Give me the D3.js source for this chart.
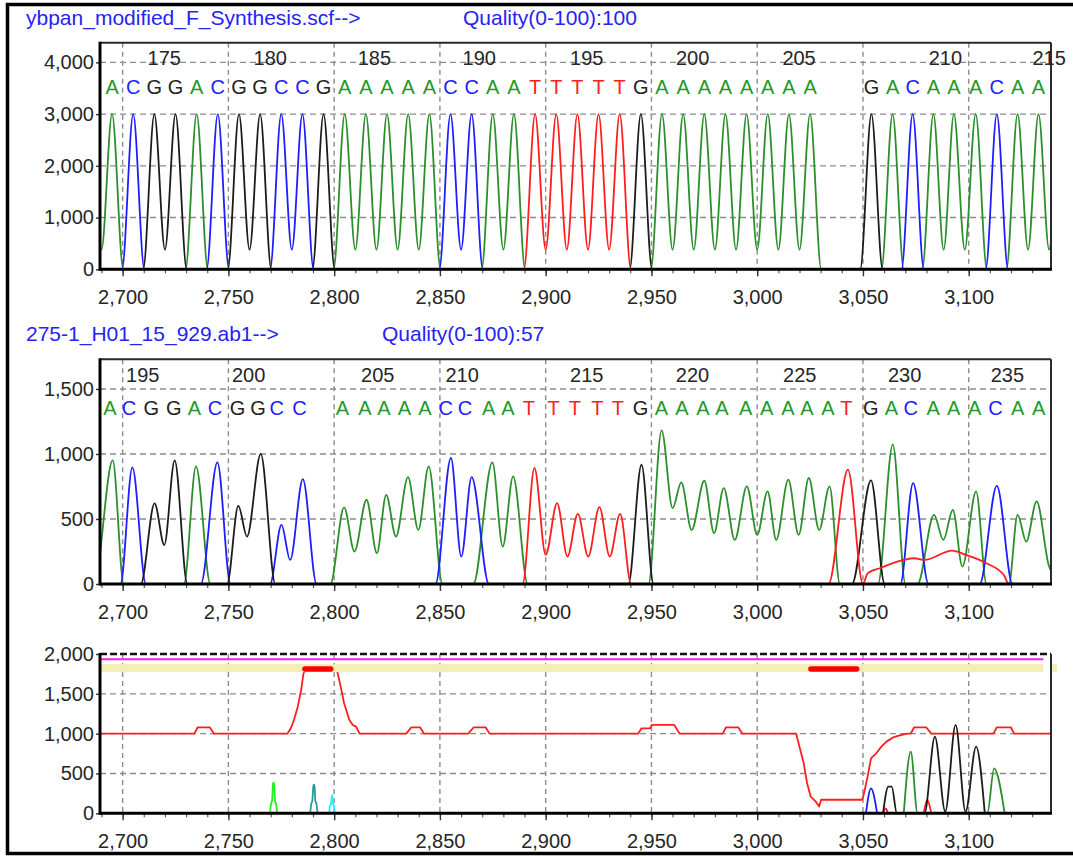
<!DOCTYPE html>
<html>
<head>
<meta charset="utf-8">
<script src="https://cdn.jsdelivr.net/npm/d3@7"></script>
<style>
  html, body { margin: 0; padding: 0; background: #fff; }
  svg { display: block; font-family: "Liberation Sans", Arial, sans-serif; }
</style>
</head>
<body>
<svg id="chart" width="1073" height="856"></svg>
<script>
// ---------- shared scan axis ----------
const xDomain = [2689.3, 3138.9];
const xMajorTicks = [2700, 2750, 2800, 2850, 2900, 2950, 3000, 3050, 3100];
const xMinorTicks = [2690, 2700, 2710, 2720, 2730, 2740, 2750, 2760, 2770, 2780, 2790, 2800, 2810, 2820, 2830, 2840, 2850, 2860, 2870, 2880, 2890, 2900, 2910, 2920, 2930, 2940, 2950, 2960, 2970, 2980, 2990, 3000, 3010, 3020, 3030, 3040, 3050, 3060, 3070, 3080, 3090, 3100, 3110, 3120, 3130];

// ---------- panel 1: synthetic reference trace ----------
const topTitle = "ybpan_modified_F_Synthesis.scf-->";
const topQuality = "Quality(0-100):100";
const topYTicks = [0, 1000, 2000, 3000, 4000];
const topYMax = 4380;
// base calls and their peak positions (first and last sit just outside the view)
const topCalls = "AACGGACGGCCGAAAAACCAATTTTTGAAAAAAAAGACAAACAAA";
const topPeakX = [2685, 2695, 2705, 2715, 2725, 2735, 2745, 2755, 2765, 2775, 2785, 2795, 2805, 2815, 2825,
  2835, 2845, 2855, 2865, 2875, 2885, 2895, 2905, 2915, 2925, 2935, 2945, 2955, 2965, 2975, 2985, 2995,
  3005, 3015, 3025, 3054, 3064, 3073.5, 3083.3, 3093, 3103.3, 3113.3, 3123.1, 3133, 3143];
const topPeakHeight = 3000;
const topValley = 380;       // level between two neighbouring peaks of the same base
const topHalfWidth = 5.3;    // scan distance from a peak to the baseline
const topNumLabels = [175, 180, 185, 190, 195, 200, 205, 210, 215];
const topNumX = [2719.7, 2769.8, 2819, 2868.6, 2919.4, 2969.5, 3019.8, 3089, 3138];

// ---------- panel 2: sample trace ----------
const midTitle = "275-1_H01_15_929.ab1-->";
const midQuality = "Quality(0-100):57";
const midYTicks = [0, 500, 1000, 1500];
const midYMax = 1728;
const midCalls = "ACGGACGGCCAAAAACCAATTTTTGAAAAAAAAATGACAAACAA";
const midBaseX = [2694.0, 2703.0, 2713.6, 2724.2, 2733.9, 2743.6, 2754.3, 2764.0, 2772.9, 2783.6,
  2803.9, 2814.5, 2823.5, 2833.2, 2842.9, 2852.8, 2861.8, 2873.1, 2882.1,
  2892.0, 2903.8, 2913.8, 2924.4, 2934.1, 2944.9,
  2954.7, 2964.4, 2974.3, 2983.3, 2994.6, 3004.5, 3014.5, 3023.5, 3033.4, 3042.2,
  3053.7, 3063.5, 3072.6, 3083.2, 3092.9, 3102.8, 3112.6, 3123.2, 3133.1];
const midNumLabels = [195, 200, 205, 210, 215, 220, 225, 230, 235];
const midNumX = [2709.5, 2759.6, 2820.6, 2860.5, 2919.4, 2969.4, 3020.1, 3069.7, 3118.3];
// trace vertices per channel: [scan, signal]
const midTraceA = [[2680, 0], [2686.5, 0], [2695.3, 950], [2700.5, 0],
  [2729, 0], [2734.7, 905], [2741.5, 0],
  [2798.2, 0], [2804.7, 590], [2809.6, 250], [2815.3, 648], [2820.2, 237], [2824.6, 686], [2829.2, 365],
  [2834.9, 822], [2839.8, 416], [2844.7, 905], [2851.2, 0],
  [2865.8, 0], [2874.8, 935], [2879.7, 288], [2884.6, 828], [2891.5, 0],
  [2948.6, 0], [2954.8, 1182], [2960, 583], [2964.1, 781], [2969, 416], [2975, 794], [2979.6, 391],
  [2984.2, 738], [2989.4, 339], [2995.1, 750], [3000, 378], [3004.9, 712], [3009, 339], [3014.7, 802],
  [3019.6, 378], [3024.4, 815], [3029.3, 416], [3034.2, 750], [3039.1, 0],
  [3057.1, 0], [3064.1, 1072], [3070.1, 0],
  [3075.8, 0], [3083.6, 532], [3088, 339], [3092.5, 570], [3097, 134], [3103.5, 712], [3108.4, 0],
  [3119, 0], [3123.1, 532], [3127.2, 326], [3132.1, 635], [3137.8, 146], [3141, 40]];
const midTraceC = [[2680, 0], [2699, 0], [2704.6, 897], [2711, 0],
  [2737, 0], [2744.8, 935], [2751, 0],
  [2769.7, 0], [2775.1, 455], [2779.2, 185], [2785.2, 807], [2791.7, 0],
  [2847.9, 0], [2855.2, 969], [2860.1, 211], [2865, 822], [2873.2, 0],
  [3067.7, 0], [3073.7, 776], [3081, 0],
  [3105.2, 0], [3113.3, 755], [3120.7, 0], [3145, 0]];
const midTraceG = [[2680, 0], [2708.6, 0], [2715.1, 620], [2719.7, 300], [2724.6, 951], [2730.6, 0],
  [2749.4, 0], [2754.7, 601], [2758.8, 365], [2765.3, 1000], [2772.2, 0],
  [2939.1, 0], [2945.3, 917], [2951, 0],
  [3044.8, 0], [3053.8, 797], [3060.3, 0], [3145, 0]];
const midTraceT = [[2680, 0], [2889.1, 0], [2894.7, 892], [2900, 224], [2905.4, 622], [2910.3, 211],
  [2915.2, 540], [2920.1, 211], [2925.4, 591], [2930.3, 211], [2935.2, 540], [2940.4, 0],
  [3033.7, 0], [3042.9, 879], [3050, 0], [3052.2, 82], [3057.9, 121], [3069.3, 185], [3074.2, 198],
  [3079.1, 185], [3092.1, 257], [3098.7, 224], [3108.4, 159], [3116.6, 69], [3119, 0], [3145, 0]];

// ---------- panel 3: comparison ----------
const botYTicks = [0, 500, 1000, 1500, 2000];
const botYMax = 2000;
const botMagentaLevel = 1935;
const botMagentaSpan = [2689.3, 3135.3];
const botBand = [1772, 1872];
const botBandSpans = [[2689.0, 3135.3], [3139.5, 3141.7]];
const botBarLevel = 1813;
const botBars = [[2786.2, 2798.4], [3025.4, 3047.0]];
const botScoreLine = [[2689.3, 1000], [2733.9, 1000], [2735.5, 1080], [2741.2, 1080], [2743.2, 1000],
  [2777.9, 1000], [2779.5, 1067], [2781, 1171], [2782.8, 1339], [2784.4, 1548], [2785.5, 1757], [2786.8, 1810],
  [2799, 1810], [2801.5, 1778], [2803.1, 1590], [2804.7, 1381], [2807.2, 1171], [2808.8, 1109], [2810.4, 1088], [2812, 1000],
  [2834.1, 1000], [2836.5, 1080], [2840.6, 1080], [2842.5, 1000],
  [2863.4, 1000], [2866, 1080], [2871.6, 1080], [2873.5, 1000],
  [2943.7, 1000], [2945.3, 1067], [2949.4, 1067], [2950.2, 1109], [2960.8, 1109], [2963.3, 1000],
  [2983.7, 1000], [2985.3, 1080], [2991, 1080], [2993, 1000],
  [3018.4, 1000], [3022, 628], [3023.6, 377], [3025.3, 209], [3027.7, 146], [3029.3, 84], [3030.2, 170],
  [3049.7, 170], [3050.5, 251], [3052.2, 460], [3053.8, 690], [3056.3, 753], [3058.7, 837], [3061.1, 900],
  [3064.4, 954], [3066.9, 975], [3070.9, 1000],
  [3072.6, 1000], [3074.2, 1080], [3079.9, 1080], [3082.3, 1000],
  [3111.7, 1000], [3113.3, 1080], [3119.9, 1080], [3121.5, 1000], [3138.9, 1000]];
const botTraceA = [[3069.3, 0], [3072.6, 774], [3075.8, 0], [3108.8, 0], [3112, 565], [3117, 0]];
const botTraceC = [[3051.4, 0], [3053.8, 314], [3056.7, 0]];
const botTraceG = [[3059.5, 0], [3062, 335], [3063.6, 335], [3066, 0], [3079.1, 0], [3084, 962], [3088.9, 20],
  [3093.8, 1109], [3098.5, 20], [3103.5, 837], [3107.6, 0]];
const botTraceT = [[3059.5, 0], [3060.8, 63], [3062, 0], [3078.3, 0], [3080.4, 167], [3082.3, 0]];
const botSpikeLime = [[2769.7, 0], [2770.1, 110], [2770.7, 170], [2771.1, 380], [2771.6, 385], [2772, 170], [2772.6, 110], [2773.1, 0]];
const botSpikeTeal = [[2788.7, 0], [2789.1, 110], [2789.7, 160], [2790.2, 356], [2790.7, 360], [2791.1, 160], [2791.7, 110], [2792.1, 0]];
const botSpikeCyan = [[2797.6, 0], [2798.0, 90], [2798.5, 120], [2799.0, 230], [2799.4, 120], [2799.9, 90], [2800.3, 0]];

// ---------- styles ----------
const traceColor = { A: "#2b8f2b", C: "#1e1eff", G: "#1c1c1c", T: "#ff1e1e" };
const letterColor = { A: "#22992a", C: "#2020ff", G: "#222222", T: "#ff2020" };
const titleColor = "#2323f5";
const gridColor = "#8c8c8c";
const textColor = "#262626";

const svg = d3.select("#chart");
const x = d3.scaleLinear().domain(xDomain).range([100, 1051]);
const fmt = d3.format(",");

// outer frame (its right edge lies past the page)
svg.append("rect").attr("x", 7.5).attr("y", 4.5).attr("width", 1100).attr("height", 849)
  .attr("fill", "none").attr("stroke", "#000").attr("stroke-width", 3.5);

function makePanel(id, top, bottom, yMax, yTicks) {
  const y = d3.scaleLinear().domain([0, yMax]).range([bottom, top]);
  const g = svg.append("g").attr("id", id);
  g.append("clipPath").attr("id", id + "-clip").append("rect")
    .attr("x", x.range()[0]).attr("y", top).attr("width", x.range()[1] - x.range()[0]).attr("height", bottom - top + 1);
  // horizontal grid
  g.append("g").selectAll("line").data(yTicks.filter(v => v > 0 && v < yMax)).join("line")
    .attr("x1", x.range()[0]).attr("x2", x.range()[1]).attr("y1", d => y(d)).attr("y2", d => y(d))
    .attr("stroke", gridColor).attr("stroke-width", 1.4).attr("stroke-dasharray", "6,4");
  // vertical grid
  g.append("g").selectAll("line").data(xMajorTicks).join("line")
    .attr("x1", d => x(d)).attr("x2", d => x(d)).attr("y1", top).attr("y2", bottom)
    .attr("stroke", gridColor).attr("stroke-width", 1.4).attr("stroke-dasharray", "5,4");
  const plot = g.append("g").attr("clip-path", `url(#${id}-clip)`);
  const over = g.append("g");
  return { g, plot, over, y, top, bottom, yTicks, yMax };
}

function finishPanel(p, dashedTop) {
  const g = p.g.append("g");
  // top and right frame
  g.append("line").attr("x1", x.range()[0]).attr("x2", x.range()[1]).attr("y1", p.top).attr("y2", p.top)
    .attr("stroke", dashedTop ? "#111" : "#2a2a2a").attr("stroke-width", dashedTop ? 2.4 : 2)
    .attr("stroke-dasharray", dashedTop ? "7,3" : null);
  g.append("line").attr("x1", x.range()[1]).attr("x2", x.range()[1]).attr("y1", p.top).attr("y2", p.bottom)
    .attr("stroke", "#2a2a2a").attr("stroke-width", 2);
  // x axis
  const minor = g.append("g").attr("transform", `translate(0,${p.bottom})`)
    .call(d3.axisBottom(x).tickValues(xMinorTicks).tickSize(4).tickFormat(""));
  minor.select(".domain").remove();
  minor.selectAll("line").attr("stroke", "#555").attr("stroke-width", 1.2);
  const major = g.append("g").attr("transform", `translate(0,${p.bottom})`)
    .call(d3.axisBottom(x).tickValues(xMajorTicks).tickSize(7).tickPadding(13.5).tickFormat(fmt));
  major.select(".domain").remove();
  major.selectAll("line").attr("stroke", "#333").attr("stroke-width", 1.4);
  major.selectAll("text").attr("font-size", 20).attr("fill", textColor)
    .attr("font-family", '"Liberation Sans", Arial, sans-serif');
  // y axis
  const yAx = g.append("g").attr("transform", `translate(${x.range()[0]},0)`)
    .call(d3.axisLeft(p.y).tickValues(p.yTicks).tickSize(4).tickPadding(2).tickFormat(fmt));
  yAx.select(".domain").remove();
  yAx.selectAll("line").attr("stroke", "#333").attr("stroke-width", 1.4);
  yAx.selectAll("text").attr("font-size", 20).attr("fill", textColor)
    .attr("font-family", '"Liberation Sans", Arial, sans-serif');
  // heavy left and bottom axis lines
  g.append("line").attr("x1", x.range()[0]).attr("x2", x.range()[0]).attr("y1", p.top - 1).attr("y2", p.bottom + 1.5)
    .attr("stroke", "#000").attr("stroke-width", 3);
  g.append("line").attr("x1", x.range()[0]).attr("x2", x.range()[1] + 1).attr("y1", p.bottom).attr("y2", p.bottom)
    .attr("stroke", "#000").attr("stroke-width", 3);
}

const smooth = d3.curveMonotoneX;
function drawTrace(p, pts, color, curve, width) {
  const line = d3.line().x(d => x(d[0])).y(d => p.y(d[1])).curve(curve || smooth);
  p.plot.append("path").attr("d", line(pts)).attr("fill", "none")
    .attr("stroke", color).attr("stroke-width", width || 1.8).attr("stroke-linejoin", "round");
}

function inView(v) { return v >= xDomain[0] && v <= xDomain[1]; }

function drawCalls(p, calls, xs, baseline) {
  p.over.append("g").selectAll("text").data(xs.map((v, i) => ({ v, c: calls[i] })).filter(d => inView(d.v)))
    .join("text").attr("x", d => x(d.v)).attr("y", baseline).attr("text-anchor", "middle")
    .attr("font-size", 20).attr("fill", d => letterColor[d.c]).text(d => d.c);
}
function drawNumbers(p, nums, xs, baseline) {
  p.over.append("g").selectAll("text").data(nums.map((n, i) => ({ n, v: xs[i] })))
    .join("text").attr("x", d => x(d.v)).attr("y", baseline).attr("text-anchor", "middle")
    .attr("font-size", 20).attr("fill", textColor).text(d => d.n);
}
function drawTitle(text, quality, xq, baseline) {
  svg.append("text").attr("x", 26).attr("y", baseline).attr("font-size", 21).attr("fill", titleColor).text(text);
  svg.append("text").attr("x", xq).attr("y", baseline).attr("font-size", 21).attr("fill", titleColor).text(quality);
}

// ===== panel 1 =====
drawTitle(topTitle, topQuality, 463, 25);
const p1 = makePanel("synthetic", 42.7, 269.3, topYMax, topYTicks);
["A", "C", "G", "T"].forEach(ch => {
  const pts = [[topPeakX[0] - 20, 0]];
  const n = topPeakX.length;
  topPeakX.forEach((px, i) => {
    if (topCalls[i] !== ch) return;
    const prevSame = i > 0 && topCalls[i - 1] === ch;
    const nextSame = i < n - 1 && topCalls[i + 1] === ch;
    if (prevSame) pts.push([(topPeakX[i - 1] + px) / 2, topValley]);
    else pts.push([px - topHalfWidth, 0]);
    pts.push([px, topPeakHeight]);
    if (!nextSame) pts.push([px + topHalfWidth, 0]);
  });
  pts.push([topPeakX[n - 1] + 20, 0]);
  drawTrace(p1, pts, traceColor[ch]);
});
drawNumbers(p1, topNumLabels, topNumX, 65);
drawCalls(p1, topCalls, topPeakX, 93.5);
finishPanel(p1, false);

// ===== panel 2 =====
drawTitle(midTitle, midQuality, 382, 341);
const p2 = makePanel("sample", 359.3, 584, midYMax, midYTicks);
drawTrace(p2, midTraceA, traceColor.A);
drawTrace(p2, midTraceC, traceColor.C);
drawTrace(p2, midTraceG, traceColor.G);
drawTrace(p2, midTraceT, traceColor.T);
drawNumbers(p2, midNumLabels, midNumX, 381.5);
drawCalls(p2, midCalls, midBaseX, 415);
finishPanel(p2, false);

// ===== panel 3 =====
const p3 = makePanel("compare", 654, 813.3, botYMax, botYTicks);
botBandSpans.forEach(s => {
  p3.over.append("rect").attr("x", x(s[0])).attr("width", x(s[1]) - x(s[0]))
    .attr("y", p3.y(botBand[1])).attr("height", p3.y(botBand[0]) - p3.y(botBand[1]))
    .attr("fill", "#f2eeb6");
});
p3.over.append("line").attr("x1", x(botMagentaSpan[0])).attr("x2", x(botMagentaSpan[1]))
  .attr("y1", p3.y(botMagentaLevel)).attr("y2", p3.y(botMagentaLevel))
  .attr("stroke", "#f020f0").attr("stroke-width", 2);
drawTrace(p3, botScoreLine, "#ff1e1e", d3.curveLinear, 1.8);
drawTrace(p3, botSpikeLime, "#22ee22");
drawTrace(p3, botSpikeTeal, "#2a9a9a");
drawTrace(p3, botSpikeCyan, "#22eeff");
drawTrace(p3, botTraceC, traceColor.C);
drawTrace(p3, botTraceT, traceColor.T);
drawTrace(p3, botTraceA, traceColor.A);
drawTrace(p3, botTraceG, traceColor.G);
botBars.forEach(b => {
  p3.over.append("line").attr("x1", x(b[0])).attr("x2", x(b[1]))
    .attr("y1", p3.y(botBarLevel)).attr("y2", p3.y(botBarLevel))
    .attr("stroke", "#ff0000").attr("stroke-width", 5.5).attr("stroke-linecap", "round");
});
finishPanel(p3, true);
</script>
</body>
</html>
